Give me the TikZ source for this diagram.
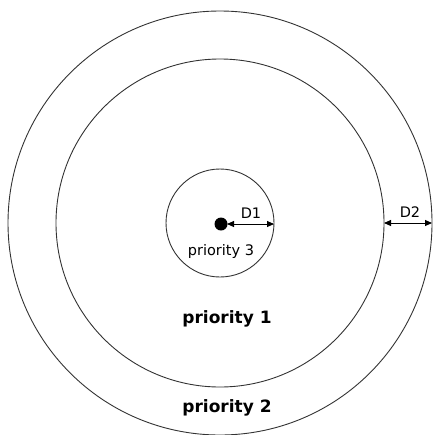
\documentclass[tikz,border=0pt]{standalone}
\usepackage{fontspec}
\setmainfont{DejaVu Sans}
\usetikzlibrary{arrows.meta}
\begin{document}
\begin{tikzpicture}[x=1pt,y=-1pt,
  ring/.style={draw=black!80,line width=0.9pt},
  dim/.style={line width=0.9pt,{Triangle[length=7pt,width=6pt]}-{Triangle[length=7pt,width=6pt]}},
  lbl/.style={inner sep=0pt,font=\fontsize{14.5}{14.5}\selectfont},
  big/.style={inner sep=0pt,font=\fontsize{17}{17}\selectfont\bfseries}]
\useasboundingbox (0,0) rectangle (435,434);
\coordinate (c) at (220,223);
\draw[ring] (c) circle[radius=212];
\draw[ring] (c) circle[radius=164];
\draw[ring] (c) circle[radius=54];
\fill (221,224) circle[radius=6.5];
\coordinate (d1a) at (227,224);
\coordinate (d1b) at (274,224);
\coordinate (d2a) at (384,223);
\coordinate (d2b) at (432,223);
\draw[dim] (d1a) -- (d1b);
\draw[dim] (d2a) -- (d2b);
\node[lbl] (t1) at (251,213) {D1};
\node[lbl] (t2) at (410,212) {D2};
\node[lbl,font=\fontsize{14.5}{14.5}\selectfont] (p3) at (221,251) {priority 3};
\node[big] (p1) at (227,319) {priority 1};
\node[big] (p2) at (227,408) {priority 2};
\end{tikzpicture}
\end{document}
